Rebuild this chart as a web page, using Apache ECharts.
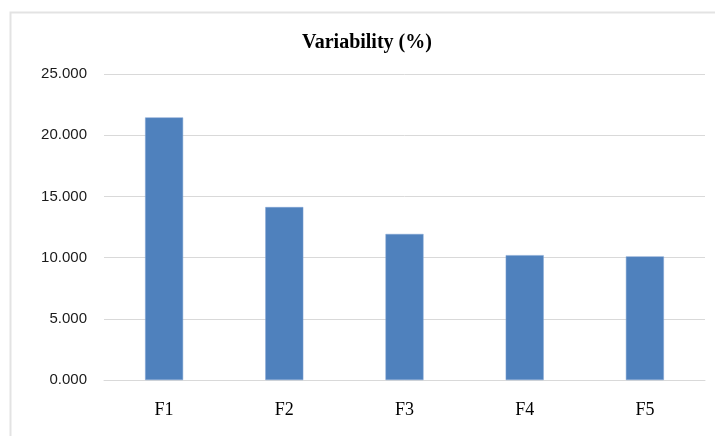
<!DOCTYPE html>
<html>
<head>
<meta charset="utf-8">
<script src="https://cdn.jsdelivr.net/npm/echarts@6/dist/echarts.min.js"></script>
<style>
html,body{margin:0;padding:0;background:#fff;}
#c{width:715px;height:436px;}
</style>
</head>
<body>
<div id="c"></div>
<script>
var categories = ['F1', 'F2', 'F3', 'F4', 'F5'];
var values = [21.45, 14.13, 11.93, 10.2, 10.1];
var titleText = 'Variability (%)';

var chart = echarts.init(document.getElementById('c'), null, {renderer: 'canvas'});
chart.setOption({
  animation: false,
  backgroundColor: '#ffffff',
  graphic: [{
    type: 'polyline',
    shape: {points: [[10.5, 436], [10.5, 12.5], [715, 12.5]]},
    style: {stroke: '#e3e3e3', lineWidth: 2, fill: null},
    silent: true
  }],
  title: {
    text: titleText,
    left: 362,
    top: 28,
    textAlign: 'center',
    textStyle: {fontFamily: 'Liberation Serif', fontWeight: 'bold', fontSize: 20, color: '#000'}
  },
  grid: {left: 104, right: 10, top: 74, bottom: 56, containLabel: false},
  xAxis: {
    type: 'category',
    data: categories,
    axisLine: {show: true, lineStyle: {color: '#d9d9d9', width: 1}},
    axisTick: {show: false},
    axisLabel: {fontFamily: 'Liberation Serif', fontSize: 18, color: '#000', margin: 21}
  },
  yAxis: {
    type: 'value',
    min: 0,
    max: 25,
    interval: 5,
    axisLine: {show: false},
    axisTick: {show: false},
    splitLine: {lineStyle: {color: '#d9d9d9', width: 1}},
    axisLabel: {
      fontFamily: 'Liberation Sans', fontSize: 15, color: '#1a1a1a', margin: 17,
      formatter: function (v) { return v.toFixed(3); }
    }
  },
  series: [{
    type: 'bar',
    data: values,
    barWidth: 38,
    itemStyle: {color: '#4f81bd', borderColor: '#7ea3d2', borderWidth: 0.5}
  }]
});
</script>
</body>
</html>
